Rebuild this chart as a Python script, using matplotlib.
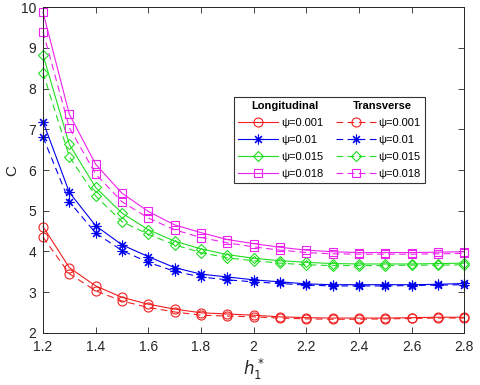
import matplotlib
matplotlib.use('Agg')
from matplotlib import pyplot as plt
from matplotlib.lines import Line2D

plt.rcParams['font.family'] = ['Liberation Sans', 'DejaVu Sans']

h1 = [1.2, 1.3, 1.4, 1.5, 1.6, 1.7, 1.8, 1.9, 2.0, 2.1, 2.2, 2.3, 2.4, 2.5, 2.6, 2.7, 2.8]

# longitudinal (solid)
long_001 = [4.61, 3.60, 3.15, 2.87, 2.70, 2.58, 2.49, 2.46, 2.43, 2.39, 2.37, 2.36, 2.36, 2.36, 2.37, 2.38, 2.38]
long_01 = [7.19, 5.45, 4.63, 4.16, 3.87, 3.60, 3.44, 3.37, 3.30, 3.25, 3.20, 3.18, 3.18, 3.18, 3.18, 3.19, 3.21]
long_015 = [8.83, 6.63, 5.57, 4.94, 4.53, 4.25, 4.06, 3.92, 3.83, 3.77, 3.73, 3.70, 3.69, 3.69, 3.69, 3.70, 3.71]
long_018 = [9.88, 7.37, 6.14, 5.43, 4.98, 4.65, 4.46, 4.29, 4.19, 4.10, 4.03, 3.99, 3.97, 3.97, 3.97, 3.98, 3.99]

# transverse (dashed)
trans_001 = [4.35, 3.45, 3.03, 2.78, 2.62, 2.51, 2.43, 2.41, 2.39, 2.36, 2.34, 2.33, 2.33, 2.34, 2.35, 2.36, 2.36]
trans_01 = [6.81, 5.22, 4.45, 4.02, 3.73, 3.51, 3.37, 3.30, 3.25, 3.21, 3.17, 3.15, 3.15, 3.15, 3.16, 3.17, 3.18]
trans_015 = [8.39, 6.33, 5.36, 4.73, 4.42, 4.16, 3.97, 3.84, 3.77, 3.71, 3.67, 3.65, 3.65, 3.65, 3.66, 3.66, 3.67]
trans_018 = [9.40, 7.04, 5.90, 5.22, 4.82, 4.53, 4.34, 4.21, 4.11, 4.03, 3.97, 3.94, 3.93, 3.93, 3.93, 3.94, 3.95]

psi_labels = ['\u03c8=0.001', '\u03c8=0.01', '\u03c8=0.015', '\u03c8=0.018']

colors = ['#f02020', '#0000ee', '#22dd22', '#ee22ee']
markers = ['o', (8, 2, 0), 'D', 's']
msizes = [6.5, 7, 5, 5.5]

fig = plt.figure(figsize=(4.8, 3.85), dpi=100)
ax = fig.add_axes([43 / 480, 1 - 332.7 / 385, 421.3 / 480, 325.4 / 385])

long_series = [long_001, long_01, long_015, long_018]
trans_series = [trans_001, trans_01, trans_015, trans_018]

solid_handles, dashed_handles = [], []
for i in range(4):
    l1, = ax.plot(h1, long_series[i], '-', color=colors[i], marker=markers[i],
                  ms=msizes[i], mfc='none', mec=colors[i], mew=0.8, lw=0.8,
                  clip_on=False)
    l2, = ax.plot(h1, trans_series[i], '--', color=colors[i], marker=markers[i],
                  ms=msizes[i], mfc='none', mec=colors[i], mew=0.8, lw=0.8,
                  dashes=(6, 4), clip_on=False)
    solid_handles.append(l1)
    dashed_handles.append(l2)

ax.set_xlim(1.2, 2.8)
ax.set_ylim(2, 10)
ax.set_xticks([1.2, 1.4, 1.6, 1.8, 2.0, 2.2, 2.4, 2.6, 2.8])
ax.set_xticklabels(['1.2', '1.4', '1.6', '1.8', '2', '2.2', '2.4', '2.6', '2.8'])
ax.set_yticks(range(2, 11))

dark = '#262626'
for s in ax.spines.values():
    s.set_color(dark)
    s.set_linewidth(0.7)
ax.tick_params(direction='in', length=4, width=0.6, top=True, right=True,
               labelsize=10, colors=dark, pad=5)

ax.set_xlabel('$h_1^*$', fontsize=12, color=dark, labelpad=2)
ax.set_ylabel('C', fontsize=11, color=dark, labelpad=1)

# legend: blank first row, headers added as text afterwards
blank = Line2D([], [], color='none')
handles = [blank] + solid_handles + [blank] + dashed_handles
labels = [' '] + psi_labels + [' '] + psi_labels
leg = ax.legend(handles, labels, ncol=2, fontsize=8, loc='upper left',
                bbox_to_anchor=((234 - 43) / 421.3, 1 - (97 - 7.3) / 325.4),
                borderaxespad=0, frameon=True, fancybox=False, framealpha=1,
                edgecolor='#333333', handlelength=3.6, handletextpad=0.25,
                columnspacing=1.1, labelspacing=0.62, borderpad=0.4)
leg.get_frame().set_linewidth(0.8)

fig.canvas.draw()
renderer = fig.canvas.get_renderer()
texts = leg.get_texts()
inv = fig.transFigure.inverted()
fs_px = 8 * 100 / 72.0
for col, title in [(0, 'Longitudinal'), (5, 'Transverse')]:
    tb = texts[col + 1].get_window_extent(renderer)
    hb = texts[col].get_window_extent(renderer)
    left = tb.x0 - (3.6 + 0.25) * fs_px
    xc = (left + tb.x1) / 2 + 4
    yc = (hb.y0 + hb.y1) / 2
    fx, fy = inv.transform((xc, yc))
    fig.text(fx, fy, title, fontsize=8, fontweight='bold', ha='center', va='center')

fig.savefig('out.png', dpi=100)
